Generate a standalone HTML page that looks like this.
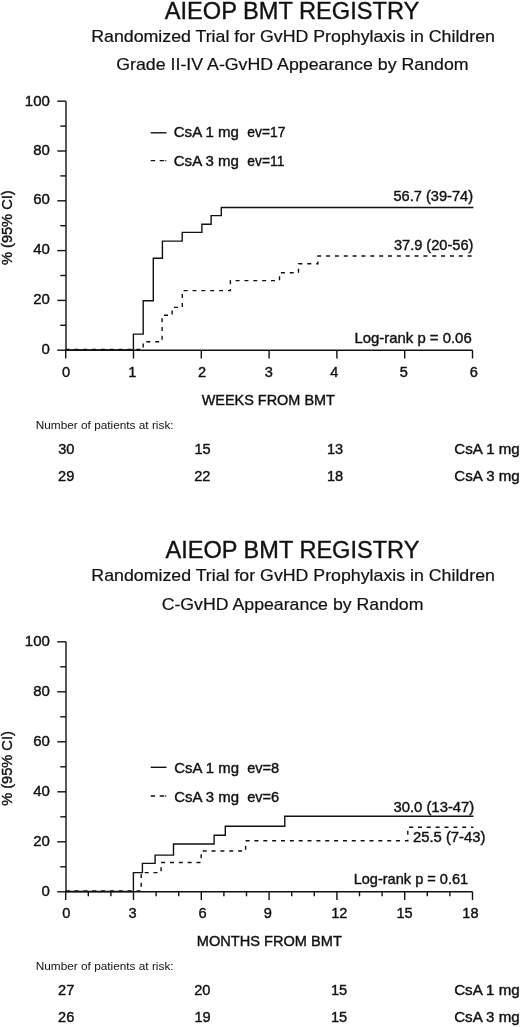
<!DOCTYPE html>
<html><head><meta charset="utf-8"><style>
html,body{margin:0;padding:0;background:#fff;}
body{width:520px;height:1027px;overflow:hidden;}
svg{display:block;will-change:transform;}
text{font-family:"Liberation Sans",sans-serif;fill:#111;stroke:#111;white-space:pre;}
</style></head><body>
<svg width="520" height="1027" viewBox="0 0 520 1027">
<rect width="520" height="1027" fill="#fff"/>
<g fill="none" stroke="#111" stroke-width="1.4">
<path d="M66 101.20 V350.2 H472.50" />
<path d="M57.3 350.20 H66" />
<path d="M57.3 300.40 H66" />
<path d="M57.3 250.60 H66" />
<path d="M57.3 200.80 H66" />
<path d="M57.3 151.00 H66" />
<path d="M57.3 101.20 H66" />
<path d="M60.3 325.30 H66" />
<path d="M60.3 275.50 H66" />
<path d="M60.3 225.70 H66" />
<path d="M60.3 175.90 H66" />
<path d="M60.3 126.10 H66" />
<path d="M65.70 350.2 V358.50" />
<path d="M133.50 350.2 V358.50" />
<path d="M201.30 350.2 V358.50" />
<path d="M269.10 350.2 V358.50" />
<path d="M336.90 350.2 V358.50" />
<path d="M404.70 350.2 V358.50" />
<path d="M472.50 350.2 V358.50" />
<path d="M66 641.80 V891.8 H472.50" />
<path d="M57.3 891.80 H66" />
<path d="M57.3 841.80 H66" />
<path d="M57.3 791.80 H66" />
<path d="M57.3 741.80 H66" />
<path d="M57.3 691.80 H66" />
<path d="M57.3 641.80 H66" />
<path d="M60.3 866.80 H66" />
<path d="M60.3 816.80 H66" />
<path d="M60.3 766.80 H66" />
<path d="M60.3 716.80 H66" />
<path d="M60.3 666.80 H66" />
<path d="M65.70 891.8 V900.10" />
<path d="M133.50 891.8 V900.10" />
<path d="M201.30 891.8 V900.10" />
<path d="M269.10 891.8 V900.10" />
<path d="M336.90 891.8 V900.10" />
<path d="M404.70 891.8 V900.10" />
<path d="M472.50 891.8 V900.10" />
<path d="M88.30 891.8 V896.30" />
<path d="M110.90 891.8 V896.30" />
<path d="M156.10 891.8 V896.30" />
<path d="M178.70 891.8 V896.30" />
<path d="M223.90 891.8 V896.30" />
<path d="M246.50 891.8 V896.30" />
<path d="M291.70 891.8 V896.30" />
<path d="M314.30 891.8 V896.30" />
<path d="M359.50 891.8 V896.30" />
<path d="M382.10 891.8 V896.30" />
<path d="M427.30 891.8 V896.30" />
<path d="M449.90 891.8 V896.30" />
<path d="M66 350 H133.4 V334.1 H143.2 V300.7 H153.3 V258.2 H162.4 V241.1 H182.2 V232.4 H201.9 V224.3 H211.1 V215.6 H221.3 V207.5 H473.4" />
<path d="M66 349.5 H143.2 V341.8 H162.1 V315.2 H172.1 V307.4 H182.3 V290.6 H230.4 V280.6 H279.5 V272.8 H298.5 V263.8 H317.9 V256 H473.4" stroke-dasharray="4 4.85" stroke-dashoffset="0.45" />
<path d="M66 891.5 H133.4 V872.6 H142.4 V863.4 H155.1 V855.1 H173.5 V844 H214.1 V835.3 H225.3 V826.2 H284.8 V816.2 H473.4" />
<path d="M66 891 H141.2 V872.6 H161.1 V862.5 H201.2 V851 H245.6 V840.8 H407.8 V827.3 H473.4" stroke-dasharray="4 4.85" stroke-dashoffset="0.3" />
<path d="M150.7 132.8 H166.5" />
<path d="M150.7 160.6 H166.3" stroke-dasharray="4.4 4.6 4.5 1.1 1 20" />
<path d="M150.7 767.3 H166.5" />
<path d="M150.7 796 H166.3" stroke-dasharray="4.4 4.6 4.5 1.1 1 20" />
</g>
<g>
<text x="164.68" y="18.80" font-size="23.2" style="stroke-width:0.35px" textLength="254.71" lengthAdjust="spacingAndGlyphs">AIEOP BMT REGISTRY</text>
<text x="91.19" y="41.90" font-size="16.4" style="stroke-width:0.2px" textLength="403.70" lengthAdjust="spacingAndGlyphs">Randomized Trial for GvHD Prophylaxis in Children</text>
<text x="116.28" y="69.80" font-size="16.4" style="stroke-width:0.2px" textLength="352.34" lengthAdjust="spacingAndGlyphs">Grade II-IV A-GvHD Appearance by Random</text>
<text x="24.83" y="106.20" font-size="15.0" style="stroke-width:0.4px">100</text>
<text x="33.15" y="155.00" font-size="15.0" style="stroke-width:0.4px">80</text>
<text x="33.15" y="204.10" font-size="15.0" style="stroke-width:0.4px">60</text>
<text x="33.15" y="254.10" font-size="15.0" style="stroke-width:0.4px">40</text>
<text x="33.15" y="304.10" font-size="15.0" style="stroke-width:0.4px">20</text>
<text x="41.48" y="353.70" font-size="15.0" style="stroke-width:0.4px">0</text>
<text x="61.95" y="376.80" font-size="14.6" style="stroke-width:0.4px">0</text>
<text x="128.27" y="376.80" font-size="14.6" style="stroke-width:0.4px">1</text>
<text x="198.05" y="376.80" font-size="14.6" style="stroke-width:0.4px">2</text>
<text x="264.74" y="376.80" font-size="14.6" style="stroke-width:0.4px">3</text>
<text x="330.29" y="376.80" font-size="14.6" style="stroke-width:0.4px">4</text>
<text x="399.65" y="376.80" font-size="14.6" style="stroke-width:0.4px">5</text>
<text x="469.76" y="376.80" font-size="14.6" style="stroke-width:0.4px">6</text>
<text x="201.63" y="405.20" font-size="14.6" style="stroke-width:0.4px" textLength="133.30" lengthAdjust="spacingAndGlyphs">WEEKS FROM BMT</text>
<text x="35.76" y="429.00" font-size="11.8" style="stroke:none" textLength="137.82" lengthAdjust="spacingAndGlyphs">Number of patients at risk:</text>
<text x="58.22" y="454.00" font-size="14.6" style="stroke-width:0.4px">30</text>
<text x="58.07" y="481.30" font-size="14.6" style="stroke-width:0.4px">29</text>
<text x="194.50" y="454.00" font-size="14.6" style="stroke-width:0.4px">15</text>
<text x="194.17" y="481.30" font-size="14.6" style="stroke-width:0.4px">22</text>
<text x="327.00" y="454.00" font-size="14.6" style="stroke-width:0.4px">13</text>
<text x="327.00" y="481.30" font-size="14.6" style="stroke-width:0.4px">18</text>
<text x="454.37" y="453.80" font-size="14.6" style="stroke-width:0.4px" textLength="65.38" lengthAdjust="spacingAndGlyphs">CsA 1 mg</text>
<text x="454.37" y="480.80" font-size="14.6" style="stroke-width:0.4px" textLength="65.38" lengthAdjust="spacingAndGlyphs">CsA 3 mg</text>
<text x="173.77" y="137.00" font-size="14.6" style="stroke-width:0.4px" textLength="65.18" lengthAdjust="spacingAndGlyphs">CsA 1 mg</text>
<text x="247.34" y="137.00" font-size="14.6" style="stroke-width:0.4px" textLength="38.12" lengthAdjust="spacingAndGlyphs">ev=17</text>
<text x="173.77" y="165.60" font-size="14.6" style="stroke-width:0.4px" textLength="65.18" lengthAdjust="spacingAndGlyphs">CsA 3 mg</text>
<text x="247.34" y="165.60" font-size="14.6" style="stroke-width:0.4px" textLength="37.03" lengthAdjust="spacingAndGlyphs">ev=11</text>
<text x="393.42" y="201.10" font-size="14.6" style="stroke-width:0.4px" textLength="79.60" lengthAdjust="spacingAndGlyphs">56.7 (39-74)</text>
<text x="393.92" y="249.90" font-size="14.6" style="stroke-width:0.4px" textLength="79.50" lengthAdjust="spacingAndGlyphs">37.9 (20-56)</text>
<text x="354.43" y="343.10" font-size="14.6" style="stroke-width:0.4px" textLength="117.25" lengthAdjust="spacingAndGlyphs">Log-rank p = 0.06</text>
<text x="165.48" y="558.00" font-size="23.0" style="stroke-width:0.35px" textLength="253.90" lengthAdjust="spacingAndGlyphs">AIEOP BMT REGISTRY</text>
<text x="91.39" y="581.40" font-size="16.4" style="stroke-width:0.2px" textLength="403.50" lengthAdjust="spacingAndGlyphs">Randomized Trial for GvHD Prophylaxis in Children</text>
<text x="161.68" y="610.00" font-size="16.4" style="stroke-width:0.2px" textLength="261.77" lengthAdjust="spacingAndGlyphs">C-GvHD Appearance by Random</text>
<text x="41.48" y="895.50" font-size="15.0" style="stroke-width:0.4px">0</text>
<text x="33.15" y="845.50" font-size="15.0" style="stroke-width:0.4px">20</text>
<text x="33.15" y="795.50" font-size="15.0" style="stroke-width:0.4px">40</text>
<text x="33.15" y="745.50" font-size="15.0" style="stroke-width:0.4px">60</text>
<text x="33.15" y="695.50" font-size="15.0" style="stroke-width:0.4px">80</text>
<text x="24.83" y="645.50" font-size="15.0" style="stroke-width:0.4px">100</text>
<text x="62.15" y="918.40" font-size="14.6" style="stroke-width:0.4px">0</text>
<text x="128.58" y="918.40" font-size="14.6" style="stroke-width:0.4px">3</text>
<text x="198.61" y="918.40" font-size="14.6" style="stroke-width:0.4px">6</text>
<text x="263.85" y="918.40" font-size="14.6" style="stroke-width:0.4px">9</text>
<text x="331.21" y="918.40" font-size="14.6" style="stroke-width:0.4px">12</text>
<text x="396.44" y="918.40" font-size="14.6" style="stroke-width:0.4px">15</text>
<text x="462.34" y="918.40" font-size="14.6" style="stroke-width:0.4px">18</text>
<text x="196.83" y="946.20" font-size="14.6" style="stroke-width:0.4px" textLength="145.04" lengthAdjust="spacingAndGlyphs">MONTHS FROM BMT</text>
<text x="35.76" y="969.80" font-size="11.8" style="stroke:none" textLength="137.82" lengthAdjust="spacingAndGlyphs">Number of patients at risk:</text>
<text x="58.07" y="995.00" font-size="14.6" style="stroke-width:0.4px">27</text>
<text x="58.07" y="1022.30" font-size="14.6" style="stroke-width:0.4px">26</text>
<text x="194.17" y="995.00" font-size="14.6" style="stroke-width:0.4px">20</text>
<text x="194.50" y="1022.30" font-size="14.6" style="stroke-width:0.4px">19</text>
<text x="331.00" y="995.00" font-size="14.6" style="stroke-width:0.4px">15</text>
<text x="331.00" y="1022.30" font-size="14.6" style="stroke-width:0.4px">15</text>
<text x="454.17" y="995.00" font-size="14.6" style="stroke-width:0.4px" textLength="65.58" lengthAdjust="spacingAndGlyphs">CsA 1 mg</text>
<text x="454.17" y="1021.80" font-size="14.6" style="stroke-width:0.4px" textLength="65.58" lengthAdjust="spacingAndGlyphs">CsA 3 mg</text>
<text x="174.27" y="773.00" font-size="14.6" style="stroke-width:0.4px" textLength="64.68" lengthAdjust="spacingAndGlyphs">CsA 1 mg</text>
<text x="247.14" y="773.00" font-size="14.6" style="stroke-width:0.4px" textLength="31.96" lengthAdjust="spacingAndGlyphs">ev=8</text>
<text x="174.27" y="802.20" font-size="14.6" style="stroke-width:0.4px" textLength="64.68" lengthAdjust="spacingAndGlyphs">CsA 3 mg</text>
<text x="247.14" y="802.20" font-size="14.6" style="stroke-width:0.4px" textLength="32.03" lengthAdjust="spacingAndGlyphs">ev=6</text>
<text x="393.42" y="811.90" font-size="14.6" style="stroke-width:0.4px" textLength="80.90" lengthAdjust="spacingAndGlyphs">30.0 (13-47)</text>
<text x="412.97" y="841.70" font-size="14.6" style="stroke-width:0.4px" textLength="72.43" lengthAdjust="spacingAndGlyphs">25.5 (7-43)</text>
<text x="353.63" y="883.60" font-size="14.6" style="stroke-width:0.4px" textLength="114.53" lengthAdjust="spacingAndGlyphs">Log-rank p = 0.61</text>
<text transform="translate(12.4 265.0) rotate(-90)" x="0" y="0" font-size="14.6" stroke-width="0.4">% (95% CI)</text>
<text transform="translate(12.4 805.8) rotate(-90)" x="0" y="0" font-size="14.6" stroke-width="0.4">% (95% CI)</text>
</g>
</svg>
</body></html>
